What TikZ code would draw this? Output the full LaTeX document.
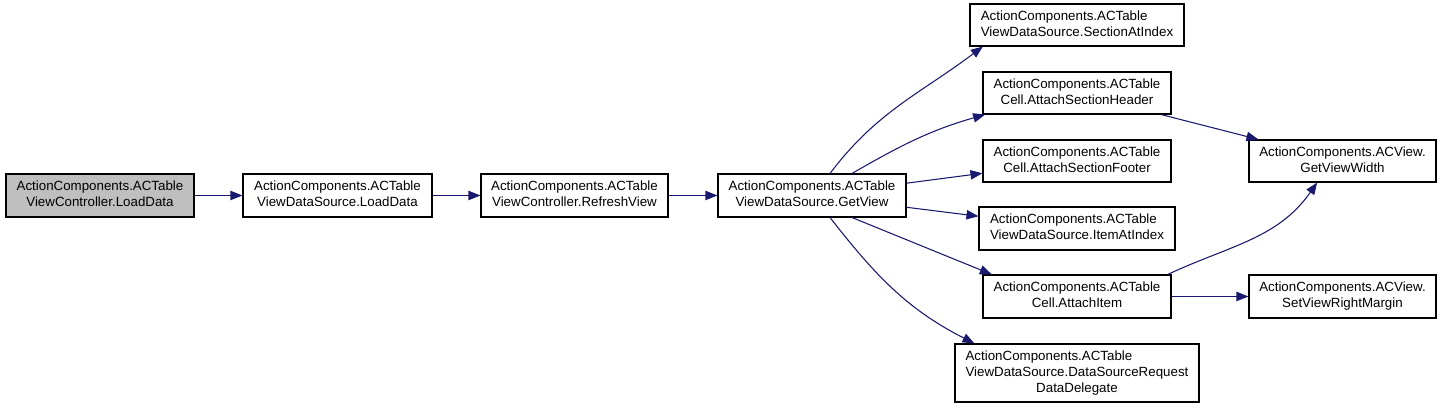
\documentclass[tikz,border=0pt]{standalone}
\usepackage{fontspec}
\setmainfont{Liberation Sans}
\usetikzlibrary{arrows.meta}
\definecolor{edgeblue}{HTML}{191970}
\definecolor{nodegray}{HTML}{BFBFBF}
\newcommand{\twol}[2]{\begin{tabular}{@{}l@{}}#1\\\multicolumn{1}{@{}c@{}}{#2}\end{tabular}}
\newcommand{\threel}[3]{\begin{tabular}{@{}l@{}}#1\\#2\\\multicolumn{1}{@{}c@{}}{#3}\end{tabular}}
\tikzset{
  fnbox/.style={draw=black, line width=0.8pt, fill=white, inner sep=0pt, align=center,
    font=\fontsize{10}{12}\selectfont, minimum height=32.25pt},
  callee/.style={draw=edgeblue, line width=0.8pt, -{Triangle[length=9pt,width=7pt]}},
}
\begin{document}
\begin{tikzpicture}[x=0.75pt,y=-0.75pt]
\useasboundingbox (0,0) rectangle (1443,409);
% nodes
\node[fnbox, fill=nodegray, minimum width=141pt] (ld) at (100,195.5) {\twol{ActionComponents.ACTable}{ViewController.LoadData}};
\node[fnbox, minimum width=141.75pt] (dsl) at (337.5,195.5) {\twol{ActionComponents.ACTable}{ViewDataSource.LoadData}};
\node[fnbox, minimum width=140.25pt] (rv) at (574.5,195.5) {\twol{ActionComponents.ACTable}{ViewController.RefreshView}};
\node[fnbox, minimum width=141pt] (gv) at (812,195.5) {\twol{ActionComponents.ACTable}{ViewDataSource.GetView}};
\node[fnbox, minimum width=160.5pt, minimum height=31.5pt] (sai) at (1077,25) {\twol{ActionComponents.ACTable}{ViewDataSource.SectionAtIndex}};
\node[fnbox, minimum width=141pt, minimum height=31.5pt] (hdr) at (1077,93) {\twol{ActionComponents.ACTable}{Cell.AttachSectionHeader}};
\node[fnbox, minimum width=141pt, minimum height=31.5pt] (ftr) at (1077,161) {\twol{ActionComponents.ACTable}{Cell.AttachSectionFooter}};
\node[fnbox, minimum width=147pt] (iai) at (1077,228.5) {\twol{ActionComponents.ACTable}{ViewDataSource.ItemAtIndex}};
\node[fnbox, minimum width=141pt] (ai) at (1077,296.5) {\twol{ActionComponents.ACTable}{Cell.AttachItem}};
\node[fnbox, minimum width=183pt, minimum height=43.5pt] (dsr) at (1077,373) {\threel{ActionComponents.ACTable}{ViewDataSource.DataSourceRequest}{DataDelegate}};
\node[fnbox, minimum width=140.25pt, minimum height=31.5pt] (gvw) at (1342.5,161) {\twol{ActionComponents.ACView.}{GetViewWidth}};
\node[fnbox, minimum width=140.25pt, minimum height=32.25pt] (svrm) at (1342.5,296.5) {\twol{ActionComponents.ACView.}{SetViewRightMargin}};
% edges
\draw[callee] (ld) -- (dsl);
\draw[callee] (dsl) -- (rv);
\draw[callee] (rv) -- (gv);
\draw[callee] ([xshift=13.5pt]gv.north) to[out=53, in=217] ([xshift=10pt]sai.south west);
\draw[callee] ([xshift=30pt]gv.north) to[out=30, in=196] ([xshift=2pt]hdr.south west);
\draw[callee] (gv) -- (ftr);
\draw[callee] (gv) -- (iai);
\draw[callee] ([xshift=30pt]gv.south) -- ([xshift=7pt]ai.north west);
\draw[callee] ([xshift=13.5pt]gv.south) to[out=-52, in=153] ([xshift=15pt]dsr.north west);
\draw[callee] (hdr) -- (gvw);
\draw[callee] ([xshift=68pt]ai.north) to[out=25, in=-125] ([xshift=-19pt]gvw.south);
\draw[callee] (ai) -- (svrm);
\end{tikzpicture}
\end{document}
